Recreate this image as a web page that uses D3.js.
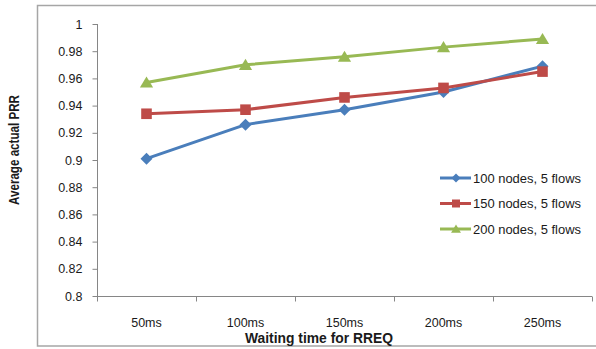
<!DOCTYPE html>
<html>
<head>
<meta charset="utf-8">
<script src="https://cdn.jsdelivr.net/npm/d3@7"></script>
<style>
  html, body { margin: 0; padding: 0; background: #fff; }
  svg { display: block; }
  text { font-family: "Liberation Sans", Arial, sans-serif; fill: #1a1a1a; }
</style>
</head>
<body>
<svg id="chart" width="596" height="349"></svg>
<script>
// Waiting time categories on the x axis
const categories = ["50ms", "100ms", "150ms", "200ms", "250ms"];

// Average actual PRR per network size
const prr100 = [0.901, 0.926, 0.937, 0.950, 0.969];
const prr150 = [0.934, 0.937, 0.946, 0.953, 0.965];
const prr200 = [0.957, 0.970, 0.976, 0.983, 0.989];

const seriesNames = ["100 nodes, 5 flows", "150 nodes, 5 flows", "200 nodes, 5 flows"];
const yTicks = [0.8, 0.82, 0.84, 0.86, 0.88, 0.9, 0.92, 0.94, 0.96, 0.98, 1];

const series = [
  { name: seriesNames[0], values: prr100, color: "#4A7EBB", shape: "diamond" },
  { name: seriesNames[1], values: prr150, color: "#BE4B48", shape: "square" },
  { name: seriesNames[2], values: prr200, color: "#98B954", shape: "triangle" }
];

const svg = d3.select("#chart");

// outer chart-area frame (right side runs off the canvas)
svg.append("rect")
  .attr("x", 37.5).attr("y", 5.5)
  .attr("width", 620).attr("height", 340.5)
  .attr("fill", "none")
  .attr("stroke", "#a6a6a6")
  .attr("stroke-width", 1.5);

const plot = { left: 97, right: 592, top: 24, bottom: 296 };

const x = d3.scaleBand().domain(categories).range([plot.left, plot.right]);
const y = d3.scaleLinear().domain([0.8, 1]).range([plot.bottom, plot.top]);

// y axis
const yAxis = d3.axisLeft(y)
  .tickValues(yTicks)
  .tickSize(5)
  .tickPadding(10)
  .tickFormat(d => d3.format("")(+d.toFixed(2)));
const gy = svg.append("g")
  .attr("transform", `translate(${plot.left + 0.5},0)`)
  .call(yAxis);

// x axis with ticks at category boundaries
const xAxis = d3.axisBottom(x).tickSize(0).tickPadding(22);
const gx = svg.append("g")
  .attr("transform", `translate(0,${plot.bottom + 0.5})`)
  .call(xAxis);
const boundaries = categories.map(c => x(c)).concat([x.range()[1]]);
gx.selectAll(".bound").data(boundaries).enter().append("line")
  .attr("class", "bound")
  .attr("x1", d => Math.round(d) + 0.5).attr("x2", d => Math.round(d) + 0.5)
  .attr("y1", 0).attr("y2", 5);

[gx, gy].forEach(g => {
  g.select(".domain").attr("stroke", "#868686");
  g.selectAll("line").attr("stroke", "#868686");
  g.selectAll("text")
    .style("font-size", "12.5px")
    .style("font-family", "'Liberation Sans', Arial, sans-serif")
    .attr("fill", "#1a1a1a");
});
gy.select(".domain").attr("d", `M0,${plot.top}V${plot.bottom}`);
gx.select(".domain").attr("d", `M${plot.left},0H${plot.right}`);

// marker shapes
function markerPath(shape, r) {
  if (shape === "diamond") return `M0,${-r}L${r},0L0,${r}L${-r},0Z`;
  if (shape === "square") return `M${-r},${-r}H${r}V${r}H${-r}Z`;
  return `M0,${-r}L${r * 1.1},${r * 0.85}L${-r * 1.1},${r * 0.85}Z`;
}

const cx = c => x(c) + x.bandwidth() / 2;
const line = d3.line().x((d, i) => cx(categories[i])).y(d => y(d));

series.forEach(s => {
  svg.append("path")
    .datum(s.values)
    .attr("d", line)
    .attr("fill", "none")
    .attr("stroke", s.color)
    .attr("stroke-width", 3)
    .attr("stroke-linejoin", "round");
});
series.forEach(s => {
  const r = s.shape === "diamond" ? 6 : (s.shape === "square" ? 5.3 : 6);
  svg.append("g").selectAll("path")
    .data(s.values).enter().append("path")
    .attr("d", markerPath(s.shape, r))
    .attr("transform", (d, i) => `translate(${cx(categories[i])},${y(d)})`)
    .attr("fill", s.color);
});

// legend
const legend = svg.append("g").attr("transform", "translate(440,178)");
series.forEach((s, i) => {
  const g = legend.append("g").attr("transform", `translate(0,${i * 25.5})`);
  g.append("line").attr("x1", 0).attr("x2", 31).attr("y1", 0).attr("y2", 0)
    .attr("stroke", s.color).attr("stroke-width", 3);
  g.append("path").attr("d", markerPath(s.shape, s.shape === "square" ? 4 : 4.5))
    .attr("transform", "translate(16,0)").attr("fill", s.color);
  g.append("text").attr("x", 33).attr("y", 4.5)
    .style("font-size", "12.5px")
    .attr("textLength", 108).attr("lengthAdjust", "spacingAndGlyphs")
    .text(s.name);
});

// axis titles
svg.append("text")
  .attr("x", 319).attr("y", 343)
  .attr("text-anchor", "middle")
  .style("font-size", "14px").style("font-weight", "bold")
  .attr("textLength", 148).attr("lengthAdjust", "spacingAndGlyphs")
  .text("Waiting time for RREQ");

svg.append("text")
  .attr("transform", "translate(19,150) rotate(-90)")
  .attr("text-anchor", "middle")
  .style("font-size", "14px").style("font-weight", "bold")
  .attr("textLength", 110).attr("lengthAdjust", "spacingAndGlyphs")
  .text("Average actual PRR");
</script>
</body>
</html>
